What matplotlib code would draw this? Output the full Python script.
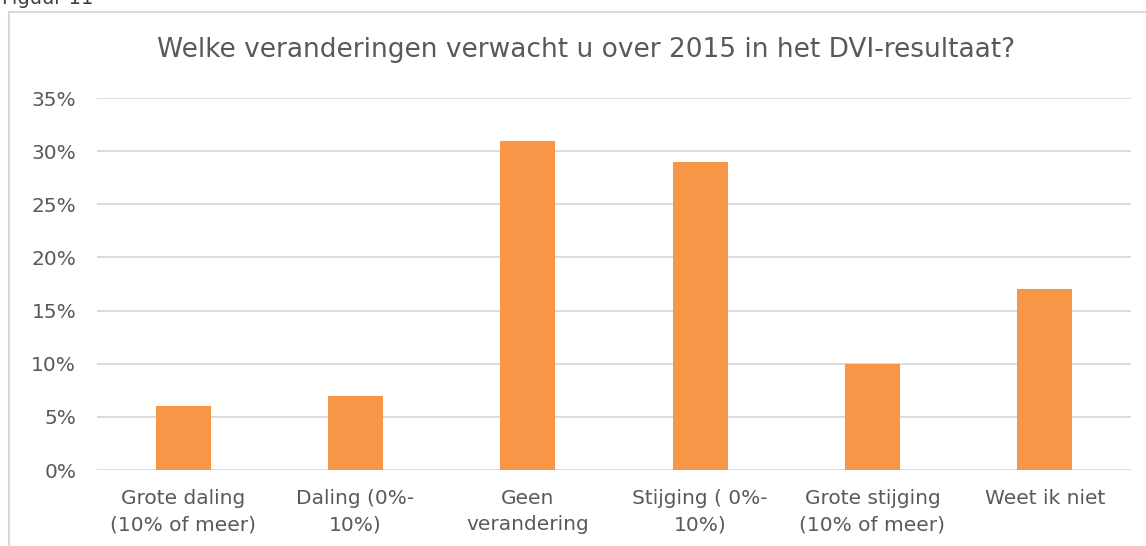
import numpy as np
import matplotlib.pyplot as plt
from matplotlib.patches import Rectangle

# ======================
# Data
# ======================
categories = ['Grote daling\n(10% of meer)', 'Daling (0%-\n10%)', 'Geen\nverandering',
              'Stijging ( 0%-\n10%)', 'Grote stijging\n(10% of meer)', 'Weet ik niet']
values = [6, 7, 31, 29, 10, 17]
yticks = [0, 5, 10, 15, 20, 25, 30, 35]

title = 'Welke veranderingen verwacht u over 2015 in het DVI-resultaat?'

W, H = 1146, 546
text_color = '#595959'
grid_color = '#D9D9D9'
bar_color = '#F79646'

fig = plt.figure(figsize=(W / 100, H / 100), dpi=100)
ax = fig.add_axes([97 / W, 1 - 470 / H, (1131 - 97) / W, (470 - 98) / H])

x = np.arange(len(categories))
ax.bar(x, values, width=0.32, color=bar_color, zorder=3)

ax.set_xlim(-0.5, len(categories) - 0.5)
ax.set_ylim(0, 35)
ax.set_yticks(yticks)
ax.set_yticklabels([f'{v}%' for v in yticks])
ax.set_xticks(x)
ax.set_xticklabels(categories, linespacing=1.45)

ax.grid(axis='y', color=grid_color, linewidth=1.3, zorder=0)
for s in ax.spines.values():
    s.set_visible(False)
ax.tick_params(length=0, labelsize=14.5, colors=text_color)
ax.tick_params(axis='y', pad=15)
ax.tick_params(axis='x', pad=14)

fig.text(586 / W, 1 - 50 / H, title, ha='center', va='center',
         fontsize=19, color=text_color)

# chart border (cut by the image edge)
fig.patches.append(Rectangle((9 / W, -0.1), 1.2, 1 - 12 / H + 0.1,
                             transform=fig.transFigure, fill=False,
                             edgecolor=grid_color, linewidth=1.5))
# caption above the chart, partly cut off
fig.text(2 / W, 1 + 2 / H, 'Figuur 11', ha='left', va='center',
         fontsize=14, color='#404040')

fig.savefig('out.png', dpi=100)
